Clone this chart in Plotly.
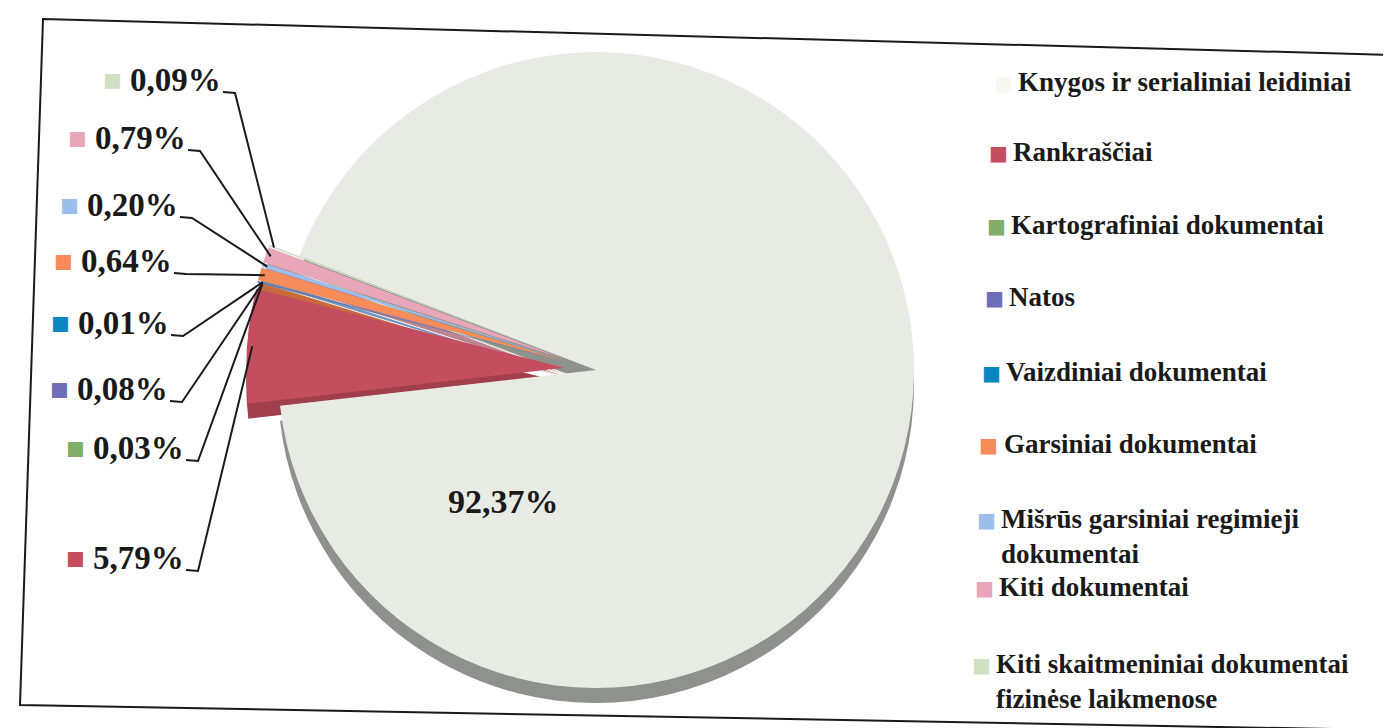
import math
import plotly.graph_objects as go

W, H = 1391, 728

# ---------------- data ----------------
categories = [
    "Knygos ir serialiniai leidiniai",
    "Rankraščiai",
    "Kartografiniai dokumentai",
    "Natos",
    "Vaizdiniai dokumentai",
    "Garsiniai dokumentai",
    "Mišrūs garsiniai regimieji dokumentai",
    "Kiti dokumentai",
    "Kiti skaitmeniniai dokumentai fizinėse laikmenose",
]
legend_labels = [
    "Knygos ir serialiniai leidiniai",
    "Rankraščiai",
    "Kartografiniai dokumentai",
    "Natos",
    "Vaizdiniai dokumentai",
    "Garsiniai dokumentai",
    "Mišrūs garsiniai regimieji<br>dokumentai",
    "Kiti dokumentai",
    "Kiti skaitmeniniai dokumentai<br>fizinėse laikmenose",
]
shares = [92.37, 5.79, 0.03, 0.08, 0.01, 0.64, 0.20, 0.79, 0.09]
pct_labels = ["92,37%", "5,79%", "0,03%", "0,08%", "0,01%", "0,64%", "0,20%", "0,79%", "0,09%"]

# ---------------- styles ----------------
colors = ["#E8EBE4", "#C44E5E", "#7FAF6A", "#6E6EB8", "#0A86C0",
          "#F58C5A", "#9BBFEA", "#E8A7B8", "#CFE0C3"]
side_colors = ["#8F918D", "#A23F4D", "#5F8A4E", "#51518E", "#076690",
               "#C96A3D", "#7395BE", "#BD8594", "#A9BC9C"]
legend_marker_colors = ["#F6F8F2"] + colors[1:]
pulls = [0.0] + [0.1] * 8
FONT = "Liberation Serif"

# pie geometry (pixels)
cx, cy, r = 588, 362, 318
depth = 15
rotation = -69
half = r * (1 + max(pulls))


def dom(cyy):
    return dict(
        x=[(cx - half) / W, (cx + half) / W],
        y=[max(0.0, 1 - (cyy + half) / H), 1 - (cyy - half) / H],
    )


def px(x):
    return x / W


def py(y):
    return 1 - y / H


fig = go.Figure()
# extruded side (3D effect)
fig.add_trace(go.Pie(
    labels=categories, values=shares, sort=False, direction="clockwise",
    rotation=rotation, pull=pulls, domain=dom(cy + depth),
    marker=dict(colors=side_colors, line=dict(width=0)),
    textinfo="none", hoverinfo="skip", showlegend=False,
))
# top face
fig.add_trace(go.Pie(
    labels=categories, values=shares, sort=False, direction="clockwise",
    rotation=rotation, pull=pulls, domain=dom(cy),
    marker=dict(colors=colors, line=dict(width=0)),
    textinfo="none", showlegend=False,
))

annotations = []
shapes = []

# percentage labels on the left with leader lines
label_right_px = [None, 178, 178, 162, 163, 166, 172, 180, 215]
label_y_px = [None, 550, 440, 381, 315, 253, 197, 130, 72]
total = sum(shares)
cum = 0.0
for i, v in enumerate(shares):
    mid = rotation + 360.0 * (cum + v / 2) / total
    cum += v
    if label_right_px[i] is None:
        continue
    rr = r * (1 + pulls[i]) * 0.985
    ex = cx + rr * math.sin(math.radians(mid))
    ey = cy - rr * math.cos(math.radians(mid))
    xr, yc = label_right_px[i], label_y_px[i]
    annotations.append(dict(
        x=px(xr), y=py(yc), xref="paper", yref="paper",
        xanchor="right", yanchor="middle", showarrow=False,
        text=f"<span style='font-size:31px;color:{colors[i]}'>■</span> {pct_labels[i]}",
        font=dict(family=FONT, size=33, color="#1a1a1a", weight="bold"),
    ))
    ly = yc + 12
    shapes.append(dict(
        type="path", xref="paper", yref="paper",
        path=f"M {px(xr)},{py(ly)} L {px(xr + 12)},{py(ly + 1)} L {px(ex)},{py(ey)}",
        line=dict(color="#1a1a1a", width=2), layer="above",
    ))

# label of the big slice
annotations.append(dict(
    x=px(495), y=py(493), xref="paper", yref="paper",
    xanchor="center", yanchor="middle", showarrow=False,
    text=pct_labels[0],
    font=dict(family=FONT, size=34, color="#1a1a1a", weight="bold"),
))

# legend (manual)
legend_x_px = [995, 990, 988, 986, 983, 981, 978, 976, 973]
legend_y_px = [75, 145, 218, 290, 365, 437, 512, 580, 657]
for i, lab in enumerate(legend_labels):
    annotations.append(dict(
        x=px(legend_x_px[i]), y=py(legend_y_px[i]), xref="paper", yref="paper",
        xanchor="center", yanchor="middle", showarrow=False,
        text="■", font=dict(family="DejaVu Sans", size=20, color=legend_marker_colors[i]),
    ))
    annotations.append(dict(
        x=px(legend_x_px[i] + 13), y=py(legend_y_px[i] - 18), xref="paper", yref="paper",
        xanchor="left", yanchor="top", showarrow=False, align="left",
        text=lab, font=dict(family=FONT, size=27, color="#1a1a1a", weight="bold"),
    ))

# scanned frame border
shapes.append(dict(
    type="path", xref="paper", yref="paper",
    path=(f"M {px(35)},{py(11)} L {px(1389)},{py(47)} "
          f"L {px(1379)},{py(722)} L {px(12)},{py(697)} Z"),
    line=dict(color="#1a1a1a", width=2), layer="above",
))

fig.update_layout(
    width=W, height=H,
    margin=dict(l=0, r=0, t=0, b=0),
    paper_bgcolor="white", plot_bgcolor="white",
    annotations=annotations, shapes=shapes,
    showlegend=False,
)

fig.write_html("out.html")
